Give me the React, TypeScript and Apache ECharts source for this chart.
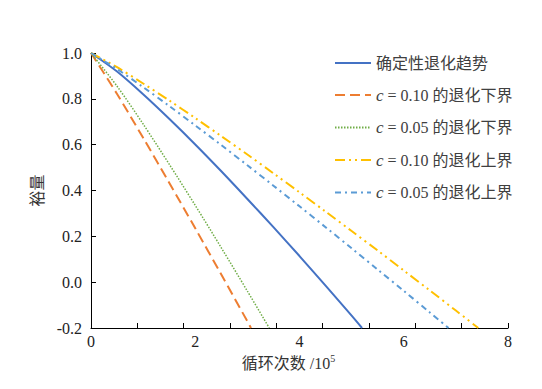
import React, { useEffect, useRef } from "react";
import * as echarts from "echarts";

const seriesNames = [
  "确定性退化趋势",
  "c = 0.10 的退化下界",
  "c = 0.05 的退化下界",
  "c = 0.10 的退化上界",
  "c = 0.05 的退化上界",
];

const trendX = [0, 0.5, 1, 1.5, 2, 2.5, 3, 3.5, 4, 4.5, 5, 5.2];
const trendY = [1, 0.919, 0.82, 0.713, 0.601, 0.484, 0.363, 0.24, 0.114, -0.015, -0.146, -0.2];

const low10X = [0, 0.5, 1, 1.5, 2, 2.5, 3, 3.07];
const low10Y = [1, 0.821, 0.63, 0.434, 0.235, 0.033, -0.171, -0.2];

const low05X = [0, 0.5, 1, 1.5, 2, 2.5, 3, 3.42];
const low05Y = [1, 0.855, 0.69, 0.515, 0.335, 0.15, -0.039, -0.2];

const up10X = [0, 0.5, 1, 1.5, 2, 2.5, 3, 3.5, 4, 4.5, 5, 5.5, 6, 6.5, 7, 7.43];
const up10Y = [1, 0.938, 0.867, 0.793, 0.716, 0.637, 0.557, 0.475, 0.392, 0.308, 0.223, 0.138, 0.051, -0.036, -0.124, -0.2];

const up05X = [0, 0.5, 1, 1.5, 2, 2.5, 3, 3.5, 4, 4.5, 5, 5.5, 6, 6.5, 6.86];
const up05Y = [1, 0.93, 0.851, 0.769, 0.684, 0.598, 0.51, 0.421, 0.331, 0.24, 0.148, 0.055, -0.038, -0.132, -0.2];

const FONT = "'Liberation Serif', 'Noto Sans CJK SC', serif";

const zip = (xs: number[], ys: number[]) => xs.map((x, i) => [x, ys[i]]);

export default function App() {
  const ref = useRef<HTMLDivElement>(null);
  useEffect(() => {
    if (!ref.current) return;
    const chart = echarts.init(ref.current, null, { renderer: "svg" });
    const mk = (
      idx: number,
      xs: number[],
      ys: number[],
      color: string,
      type: any,
      width: number
    ) => ({
      name: seriesNames[idx],
      type: "line",
      xAxisIndex: 0,
      data: zip(xs, ys),
      showSymbol: false,
      symbol: "none",
      smooth: 0.3,
      lineStyle: { color, type, width },
      itemStyle: { color },
    });
    chart.setOption({
      animation: false,
      backgroundColor: "#ffffff",
      grid: {
        left: 91,
        top: 53,
        right: 34,
        bottom: 61,
        containLabel: false,
        outerBoundsMode: "none",
      },
      legend: {
        orient: "vertical",
        left: 329,
        top: 50,
        itemWidth: 36,
        itemHeight: 14,
        itemGap: 15.5,
        data: seriesNames,
        itemStyle: { opacity: 0 },
        formatter: (name: string) =>
          name.startsWith("c") ? "{i|c}" + name.slice(1) : name,
        textStyle: {
          fontFamily: FONT,
          fontSize: 16,
          color: "#404040",
          rich: {
            i: {
              fontFamily: "'Liberation Serif', serif",
              fontStyle: "italic",
              fontSize: 17,
              color: "#404040",
            },
          },
        },
      },
      xAxis: [
        {
          type: "value",
          min: 0,
          max: 8,
          interval: 2,
          position: "bottom",
          name: "循环次数 /10{sup|5}",
          nameLocation: "middle",
          nameGap: 23,
          nameTextStyle: {
            fontFamily: FONT,
            fontSize: 16,
            color: "#333",
            padding: [0, 22, 0, 0],
            rich: {
              sup: {
                fontFamily: FONT,
                fontSize: 10,
                color: "#333",
                padding: [0, 0, 9, 0],
              },
            },
          },
          axisLine: {
            show: true,
            onZero: false,
            lineStyle: { color: "#000", width: 1 },
          },
          axisTick: { show: false },
          splitLine: { show: false },
          axisLabel: {
            fontFamily: FONT,
            fontSize: 16,
            color: "#222",
            margin: 5,
          },
        },
        {
          type: "value",
          min: 0,
          max: 9,
          interval: 1,
          position: "bottom",
          axisLine: { show: false, onZero: false },
          axisTick: {
            show: true,
            inside: true,
            length: 5,
            lineStyle: { color: "#000", width: 1 },
          },
          axisLabel: { show: false },
          splitLine: { show: false },
        },
      ],
      yAxis: {
        type: "value",
        min: -0.2,
        max: 1.0,
        interval: 0.2,
        name: "裕量",
        nameLocation: "middle",
        nameGap: 29,
        nameTextStyle: { fontFamily: FONT, fontSize: 16, color: "#333" },
        axisLine: {
          show: true,
          onZero: false,
          lineStyle: { color: "#000", width: 1 },
        },
        axisTick: {
          show: true,
          inside: true,
          length: 5,
          lineStyle: { color: "#000", width: 1 },
        },
        splitLine: { show: false },
        axisLabel: {
          fontFamily: FONT,
          fontSize: 16,
          color: "#222",
          margin: 9,
          formatter: (v: number) => v.toFixed(1),
        },
      },
      series: [
        mk(0, trendX, trendY, "#4472C4", "solid", 2),
        mk(1, low10X, low10Y, "#ED7D31", [10, 5], 2),
        mk(2, low05X, low05Y, "#70AD47", [1.5, 1.5], 1.5),
        mk(3, up10X, up10Y, "#FFC000", [10, 4, 2, 4, 2, 4], 2),
        mk(4, up05X, up05Y, "#5B9BD5", [6, 4, 2, 4], 2),
      ],
    });
    return () => chart.dispose();
  }, []);
  return (
    <div
      ref={ref}
      style={{ position: "fixed", left: 0, top: 0, width: 542, height: 389 }}
    />
  );
}
